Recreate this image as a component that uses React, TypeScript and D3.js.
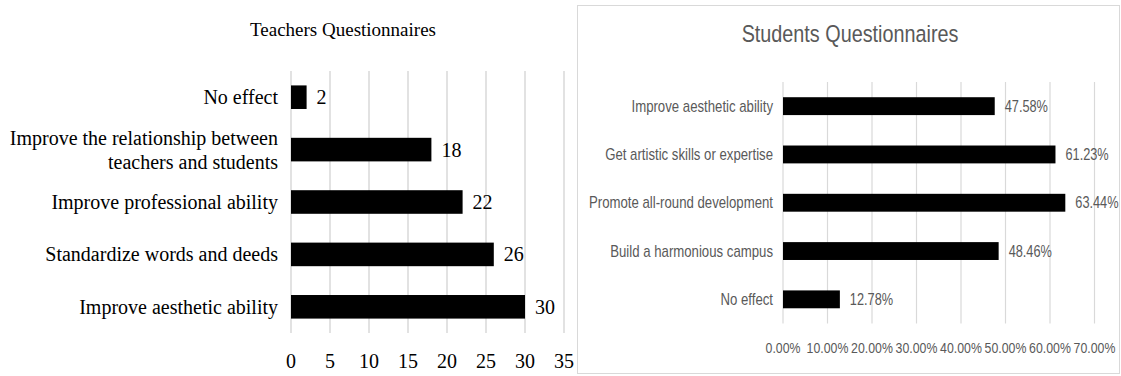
import React from "react";
import * as d3 from "d3";

const teacherCategories: string[][] = [
  ["No effect"],
  ["Improve the relationship between", "teachers and students"],
  ["Improve professional ability"],
  ["Standardize words and deeds"],
  ["Improve aesthetic ability"],
];
const teacherValues: number[] = [2, 18, 22, 26, 30];
const teacherTicks: number[] = [0, 5, 10, 15, 20, 25, 30, 35];

const studentCategories: string[] = [
  "Improve aesthetic ability",
  "Get artistic skills or expertise",
  "Promote all-round development",
  "Build a harmonious campus",
  "No effect",
];
const studentValues: number[] = [47.58, 61.23, 63.44, 48.46, 12.78];
const studentTicks: number[] = [0, 10, 20, 30, 40, 50, 60, 70];

const SERIF = "'Liberation Serif', 'Times New Roman', serif";
const SANS = "'Liberation Sans', Arial, sans-serif";
const GRID = "#d9d9d9";
const GRAYTXT = "#595959";
const SQUEEZE = 0.88;

function NText(props: {
  x: number;
  y: number;
  size: number;
  anchor?: "start" | "middle" | "end";
  children: React.ReactNode;
}) {
  const { x, y, size, anchor = "start", children } = props;
  return (
    <g transform={`translate(${x},${y}) scale(${SQUEEZE},1.08)`}>
      <text x={0} y={0} textAnchor={anchor} fontFamily={SANS} fontSize={size} fill={GRAYTXT}>
        {children}
      </text>
    </g>
  );
}

export default function App() {
  // Left chart scales
  const xL = d3.scaleLinear().domain([0, 35]).range([291, 564]);
  const idxL = teacherValues.map((_, i) => String(i));
  const yL = d3.scaleBand().domain(idxL).range([71, 333]).paddingInner(0.55).paddingOuter(0.275);

  // Right chart scales
  const xR = d3.scaleLinear().domain([0, 70]).range([783, 1094.5]);
  const idxR = studentValues.map((_, i) => String(i));
  const yR = d3.scaleBand().domain(idxR).range([82, 323.5]).paddingInner(0.63).paddingOuter(0.315);

  return (
    <svg
      width={1121}
      height={376}
      style={{ position: "absolute", left: 0, top: 0, background: "#fff" }}
    >
      <rect x={0} y={0} width={1121} height={376} fill="#fff" />

      {/* Left chart */}
      <text x={343} y={36} textAnchor="middle" fontFamily={SERIF} fontSize={19} fill="#000">
        Teachers Questionnaires
      </text>
      {teacherTicks.map((t) => (
        <g key={"lt" + t}>
          <line x1={xL(t)} x2={xL(t)} y1={71} y2={333} stroke={GRID} strokeWidth={1.5} />
          <text x={xL(t)} y={368} textAnchor="middle" fontFamily={SERIF} fontSize={20} fill="#000">
            {t}
          </text>
        </g>
      ))}
      {teacherValues.map((v, i) => {
        const y0 = yL(String(i))!;
        const bw = yL.bandwidth();
        const cy = y0 + bw / 2;
        const lines = teacherCategories[i];
        return (
          <g key={"lb" + i}>
            <rect x={xL(0)} y={y0} width={xL(v) - xL(0)} height={bw} fill="#000" />
            <text x={xL(v) + 10} y={cy + 7} fontFamily={SERIF} fontSize={20} fill="#000">
              {v}
            </text>
            {lines.map((ln, k) => (
              <text
                key={k}
                x={278}
                y={cy + 7 + (k - (lines.length - 1) / 2) * 24}
                textAnchor="end"
                fontFamily={SERIF}
                fontSize={20}
                fill="#000"
              >
                {ln}
              </text>
            ))}
          </g>
        );
      })}

      {/* Right chart */}
      <rect x={577.5} y={5.5} width={542} height={368} fill="none" stroke={GRID} strokeWidth={1} />
      <NText x={850} y={42} size={22.5} anchor="middle">
        Students Questionnaires
      </NText>
      {studentTicks.map((t) => (
        <g key={"rt" + t}>
          <line x1={xR(t)} x2={xR(t)} y1={82} y2={323.5} stroke={GRID} strokeWidth={1.2} />
          <NText x={xR(t)} y={353} size={14} anchor="middle">
            {t.toFixed(2) + "%"}
          </NText>
        </g>
      ))}
      {studentValues.map((v, i) => {
        const y0 = yR(String(i))!;
        const bw = yR.bandwidth();
        const cy = y0 + bw / 2;
        return (
          <g key={"rb" + i}>
            <rect x={xR(0)} y={y0} width={xR(v) - xR(0)} height={bw} fill="#000" />
            <NText x={xR(v) + 10} y={cy + 5.5} size={14.5}>
              {v.toFixed(2) + "%"}
            </NText>
            <NText x={773} y={cy + 5.5} size={15} anchor="end">
              {studentCategories[i]}
            </NText>
          </g>
        );
      })}
    </svg>
  );
}
